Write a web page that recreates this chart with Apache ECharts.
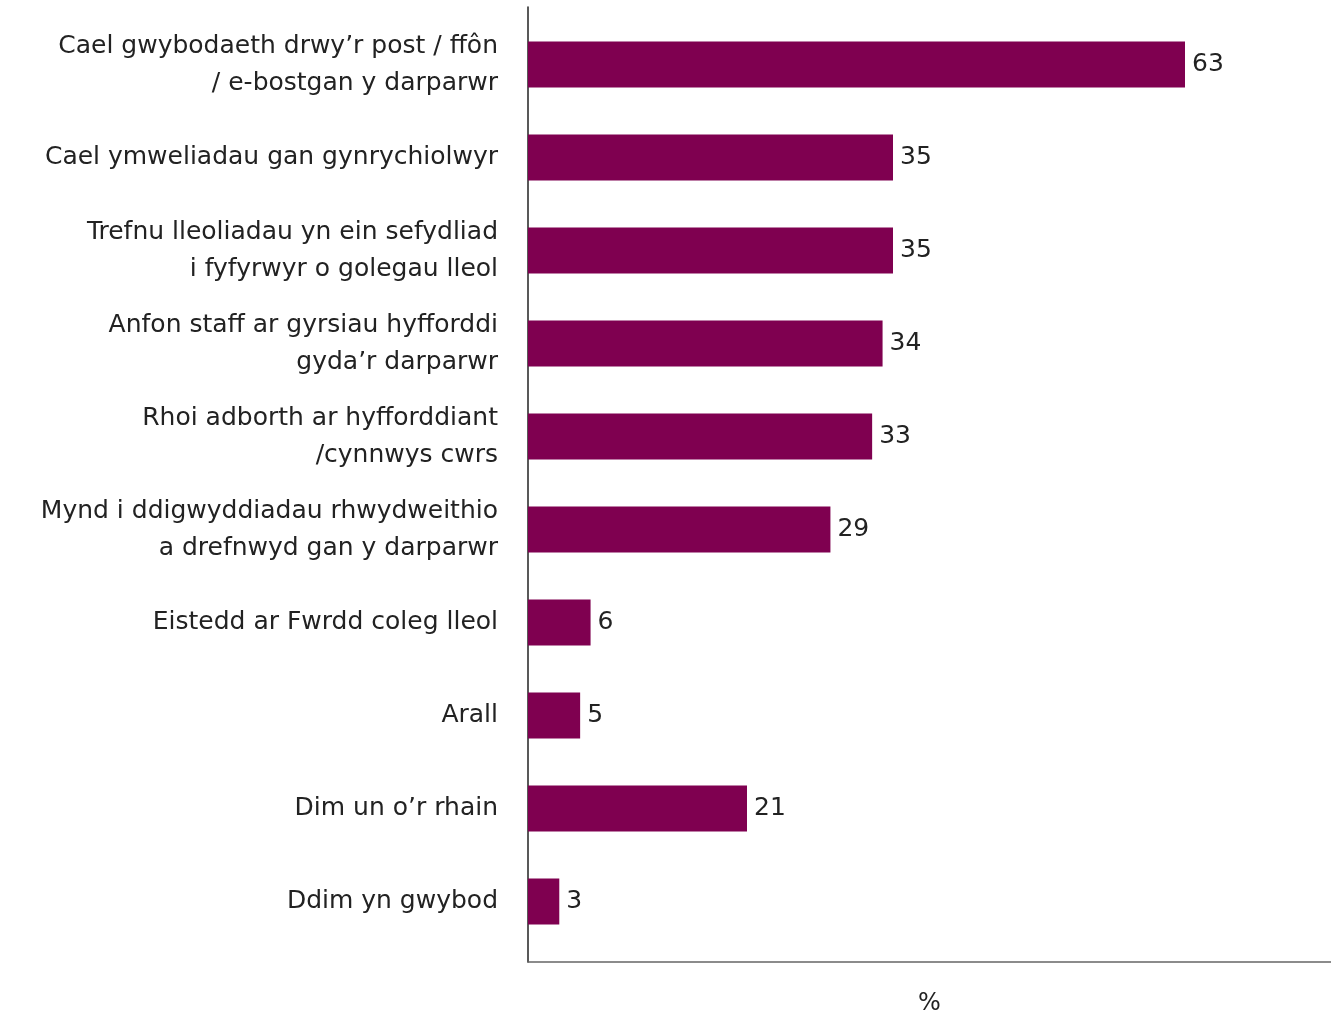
<!DOCTYPE html>
<html>
<head>
<meta charset="utf-8">
<script src="https://cdn.jsdelivr.net/npm/echarts@6/dist/echarts.min.js"></script>
<style>
  html, body { margin: 0; padding: 0; background: #fff; }
  #chart { width: 1331px; height: 1018px; }
</style>
</head>
<body>
<div id="chart"></div>
<script>
// categories, top to bottom
var categories = [
    "Cael gwybodaeth drwy\u2019r post / ffôn\n/ e-bostgan y darparwr",
    "Cael ymweliadau gan gynrychiolwyr",
    "Trefnu lleoliadau yn ein sefydliad\ni fyfyrwyr o golegau lleol",
    "Anfon staff ar gyrsiau hyfforddi\ngyda\u2019r darparwr",
    "Rhoi adborth ar hyfforddiant\n/cynnwys cwrs",
    "Mynd i ddigwyddiadau rhwydweithio\na drefnwyd gan y darparwr",
    "Eistedd ar Fwrdd coleg lleol",
    "Arall",
    "Dim un o\u2019r rhain",
    "Ddim yn gwybod"
];
// percentages
var values = [63, 35, 35, 34, 33, 29, 6, 5, 21, 3];

var axisMax = 77;
var barColor = '#7f0050';
var fontFamily = '"DejaVu Sans", sans-serif';

var chart = echarts.init(document.getElementById('chart'));

var option = {
    backgroundColor: '#ffffff',
    animation: false,
    grid: [
        // grid 0: only the axis lines
        { left: 528, right: 0, top: 7, bottom: 56, outerBoundsMode: 'none' },
        // grid 1: bars and category labels
        { left: 528, right: 0, top: 18, bottom: 70, outerBoundsMode: 'none' }
    ],
    xAxis: [
        {
            gridIndex: 0,
            type: 'value',
            min: 0,
            max: axisMax,
            name: '%',
            nameLocation: 'middle',
            nameGap: 30,
            nameTextStyle: { fontFamily: fontFamily, fontSize: 24, color: '#222' },
            axisLine: { show: true, lineStyle: { color: '#666', width: 1.5 } },
            axisTick: { show: false },
            axisLabel: { show: false },
            splitLine: { show: false }
        },
        {
            gridIndex: 1,
            type: 'value',
            min: 0,
            max: axisMax,
            show: false
        }
    ],
    yAxis: [
        {
            gridIndex: 0,
            type: 'value',
            min: 0,
            max: 1,
            axisLine: { show: true, lineStyle: { color: '#222', width: 1.5 } },
            axisTick: { show: false },
            axisLabel: { show: false },
            splitLine: { show: false }
        },
        {
            gridIndex: 1,
            type: 'category',
            inverse: true,
            data: categories,
            axisLine: { show: false },
            axisTick: { show: false },
            axisLabel: {
                margin: 30,
                fontFamily: fontFamily,
                fontSize: 25,
                lineHeight: 37,
                color: '#222',
                align: 'right'
            }
        }
    ],
    series: [
        {
            type: 'bar',
            xAxisIndex: 1,
            yAxisIndex: 1,
            data: values,
            barWidth: 46,
            itemStyle: { color: barColor },
            label: {
                show: true,
                position: 'right',
                distance: 7,
                fontFamily: fontFamily,
                fontSize: 25,
                color: '#222'
            }
        }
    ]
};

chart.setOption(option);
</script>
</body>
</html>
